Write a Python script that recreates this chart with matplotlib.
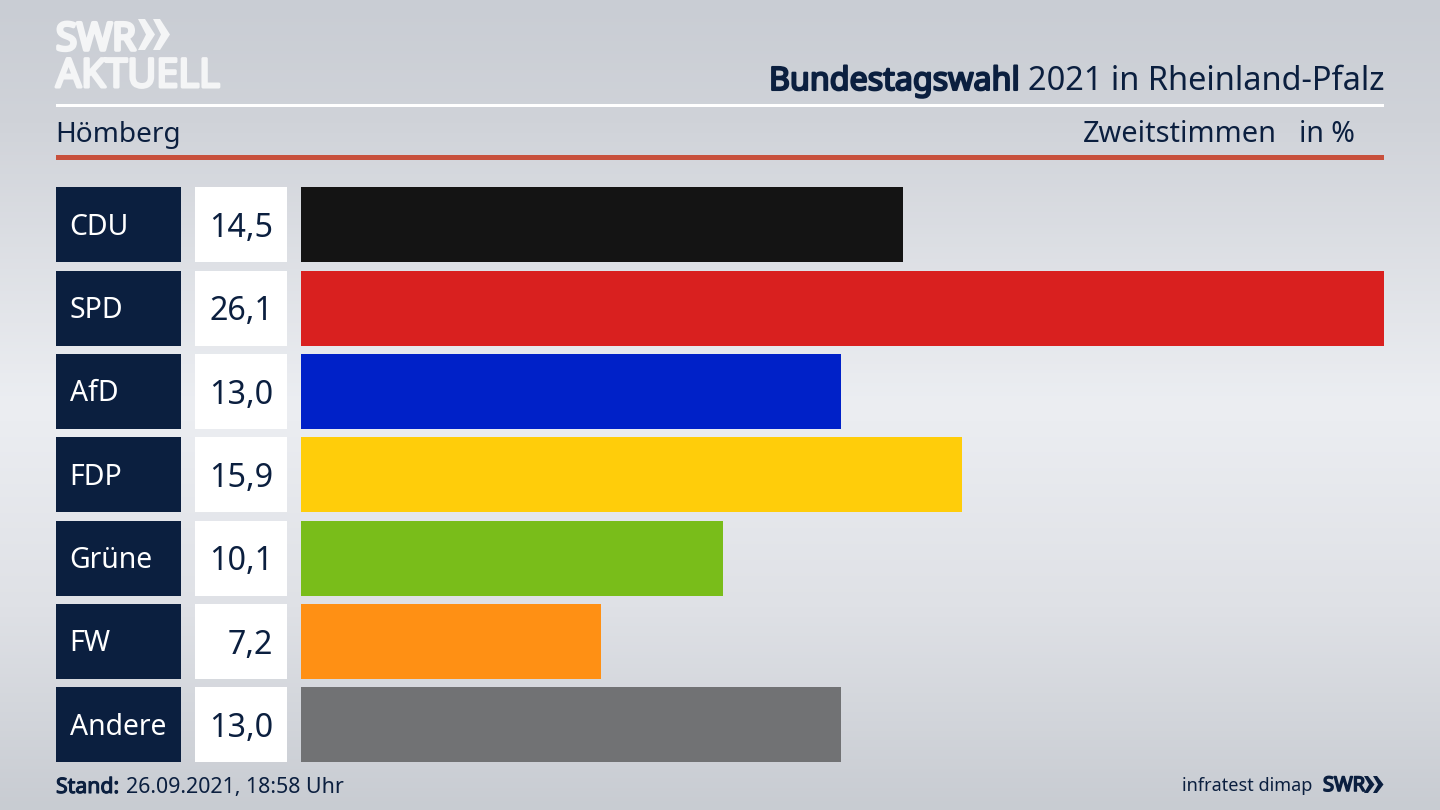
import matplotlib
matplotlib.use("Agg")
import matplotlib.pyplot as plt
import matplotlib.patheffects as pe
import numpy as np
from matplotlib.colors import LinearSegmentedColormap
from matplotlib.patches import Rectangle, Polygon

parties = ["CDU", "SPD", "AfD", "FDP", "Grüne", "FW", "Andere"]
values = [14.5, 26.1, 13.02, 15.94, 10.17, 7.23, 13.02]
value_labels = ["14,5", "26,1", "13,0", "15,9", "10,1", "7,2", "13,0"]
colors = ["#141414", "#d9201f", "#0021c8", "#ffcd0a", "#79bd1a", "#ff9014", "#717274"]

NAVY = "#0b1f3f"
LOGO = "#f4f5f6"
FONT = "Noto Sans"
plt.rcParams["font.family"] = FONT

W, H = 1440, 810
fig = plt.figure(figsize=(14.4, 8.1), dpi=100)

def heavy(color, width):
    return [pe.withStroke(linewidth=width, foreground=color)]

# page frame in pixel coordinates
page = fig.add_axes([0, 0, 1, 1], zorder=0)
page.set_xlim(0, W)
page.set_ylim(H, 0)
page.axis("off")
cmap = LinearSegmentedColormap.from_list(
    "bg", [(0, "#c9cdd4"), (0.15, "#d0d3d9"), (0.5, "#eceef2"), (0.75, "#dfe1e6"), (1, "#c8ccd2")])
page.imshow(np.linspace(0, 1, 256).reshape(-1, 1), cmap=cmap, aspect="auto",
            extent=(0, W, H, 0), zorder=0)

# header rules
page.add_patch(Rectangle((56, 104), 1328, 3, color="white", lw=0, zorder=1))
page.add_patch(Rectangle((56, 155), 1328, 5, color="#c8503c", lw=0, zorder=1))

# logo
page.text(56, 50, "SWR", fontsize=27.5, color=LOGO, family="Open Sans", va="baseline", zorder=2,
          path_effects=heavy(LOGO, 2.6))
page.text(56, 87, "AKTUELL", fontsize=28.6, color=LOGO, family="Open Sans", va="baseline", zorder=2,
          path_effects=heavy(LOGO, 2.2))
for x0 in (138, 153):
    page.add_patch(Polygon([(x0, 19), (x0 + 7, 19), (x0 + 17, 34.5), (x0 + 7, 50), (x0, 50), (x0 + 8, 34.5)],
                           color=LOGO, lw=0, zorder=2))

# title
page.text(1384, 90, "2021 in Rheinland-Pfalz", fontsize=23.4, color=NAVY, ha="right", va="baseline", zorder=2)
page.text(1020, 90, "Bundestagswahl", fontsize=23.2, color=NAVY, ha="right", va="baseline", zorder=2,
          path_effects=heavy(NAVY, 1.5))

# subheader
page.text(55, 142, "Hömberg", fontsize=20.2, color=NAVY, va="baseline", zorder=2)
page.text(1277, 142, "Zweitstimmen", fontsize=20.8, color=NAVY, ha="right", va="baseline", zorder=2)
page.text(1355, 142, "in %", fontsize=20.5, color=NAVY, ha="right", va="baseline", zorder=2)

# footer
page.text(56, 793, "Stand:", fontsize=15.3, color=NAVY, va="baseline", zorder=2,
          path_effects=heavy(NAVY, 0.8))
page.text(126, 793, "26.09.2021, 18:58 Uhr", fontsize=15.4, color=NAVY, va="baseline", zorder=2)
page.text(1312, 791, "infratest dimap", fontsize=13, color=NAVY, ha="right", va="baseline", zorder=2)
page.text(1323, 791, "SWR", fontsize=14.5, color=NAVY, family="Open Sans", va="baseline", zorder=2,
          path_effects=heavy(NAVY, 1.2))
for x0 in (1364, 1373):
    page.add_patch(Polygon([(x0, 776), (x0 + 4, 776), (x0 + 10.5, 784.5), (x0 + 4, 793), (x0, 793), (x0 + 5, 784.5)],
                           color=NAVY, lw=0, zorder=2))

# bars and rows
rows = np.arange(len(parties))
def row_axes(x0, x1, zorder=1):
    ax = fig.add_axes([x0 / W, 1 - 762.3 / H, (x1 - x0) / W, 575 / H], zorder=zorder)
    ax.set_ylim(len(parties) - 1 + 0.45, -0.45)
    ax.axis("off")
    return ax

ax = row_axes(301.2, 1384)
ax.set_xlim(0, max(values))
ax.barh(rows, values, height=0.9, color=colors, linewidth=0)

ax_n = row_axes(56, 181)
ax_n.set_xlim(0, 1)
ax_n.barh(rows, [1] * len(rows), height=0.9, color=NAVY, linewidth=0)
for r, p in zip(rows, parties):
    ax_n.text(13.5 / 125, r - 0.012, p, color="white", fontsize=20.4, va="center_baseline", ha="left")

ax_v = row_axes(195, 287)
ax_v.set_xlim(0, 1)
ax_v.barh(rows, [1] * len(rows), height=0.9, color="white", linewidth=0)
for r, v in zip(rows, value_labels):
    ax_v.text(78 / 92, r - 0.005, v, color=NAVY, fontsize=23.2, va="center_baseline", ha="right")

fig.savefig("out.png", dpi=100)
